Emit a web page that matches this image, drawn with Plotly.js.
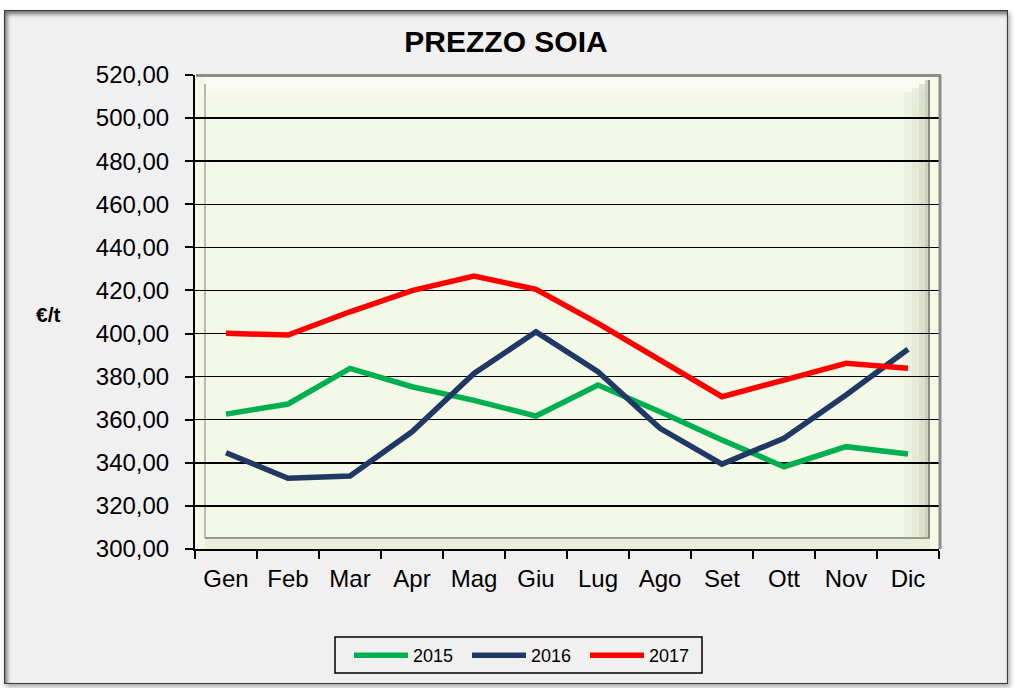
<!DOCTYPE html>
<html>
<head>
<meta charset="utf-8">
<script src="https://cdn.plot.ly/plotly-3.0.1.min.js"></script>
<style>
  html, body { margin: 0; padding: 0; background: #ffffff; width: 1019px; height: 688px; overflow: hidden; }
  #frame {
    position: absolute; left: 4px; top: 10px; width: 1002px; height: 672px;
    background: #f0f0f0; border: 1px solid #3a3a3a;
    box-shadow: inset 2px 3px 4px rgba(0,0,0,0.55), 2px 3px 5px rgba(0,0,0,0.35);
  }
  #chart { position: absolute; left: 0; top: 0; width: 1019px; height: 688px; }
</style>
</head>
<body>
<div id="frame"></div>
<div id="chart"></div>
<script>
// ---- data ----
const months = ['Gen','Feb','Mar','Apr','Mag','Giu','Lug','Ago','Set','Ott','Nov','Dic'];
const p2015 = [362.6, 367.3, 383.8, 375.3, 369.0, 361.7, 376.1, 363.7, 350.6, 338.2, 347.5, 344.1];
const p2016 = [344.7, 332.8, 333.9, 354.4, 381.5, 400.8, 382.3, 356.0, 339.4, 351.4, 371.5, 392.7];
const p2017 = [400.1, 399.3, 410.1, 419.9, 426.7, 420.5, 404.7, 387.7, 370.7, 378.4, 386.2, 383.9];
const seriesNames = ['2015', '2016', '2017'];
const yTitle = '€/t';
const chartTitle = 'PREZZO SOIA';

// ---- layout helpers (pixel -> paper) ----
const L = 195, R = 939, T = 75, B = 549;
const fx = px => (px - L) / (R - L);
const fy = py => (B - py) / (B - T);
const FONT = 'Arial, "Liberation Sans", sans-serif';

const traces = [
  {x: months, y: p2015, name: seriesNames[0], type: 'scatter', mode: 'lines', line: {color: '#00b050', width: 5.5}},
  {x: months, y: p2016, name: seriesNames[1], type: 'scatter', mode: 'lines', line: {color: '#1f3864', width: 5.5}},
  {x: months, y: p2017, name: seriesNames[2], type: 'scatter', mode: 'lines', line: {color: '#ff0000', width: 5.5}}
];

const shapes = [];
function rect(x0, x1, y0, y1, fill, layer) {
  shapes.push({type: 'rect', xref: 'paper', yref: 'paper', layer: layer || 'below',
    x0: fx(x0), x1: fx(x1), y0: fy(y1), y1: fy(y0), fillcolor: fill, line: {width: 0}});
}
function line(x0, x1, y0, y1, color, w, layer) {
  shapes.push({type: 'line', xref: 'paper', yref: 'paper', layer: layer || 'below',
    x0: fx(x0), x1: fx(x1), y0: fy(y0), y1: fy(y1), line: {color: color, width: w}});
}
// top highlight gradient of the wall
rect(205, 928, 77, 84, 'rgba(255,255,255,0.55)');
rect(205, 928, 84, 91, 'rgba(255,255,255,0.40)');
rect(205, 928, 91, 97, 'rgba(255,255,255,0.22)');
rect(205, 928, 97, 102, 'rgba(255,255,255,0.10)');
// right shading gradient
rect(904, 912, 92, 538, 'rgba(160,165,140,0.08)');
rect(912, 919, 88, 538, 'rgba(160,165,140,0.16)');
rect(919, 925, 84, 538, 'rgba(150,155,130,0.26)');
rect(925, 929, 80, 538, 'rgba(140,145,120,0.38)');
// bottom band
rect(205, 930, 538, 549, 'rgba(225,230,205,0.55)');
// inner bevel lines
line(205, 205, 538, 84, 'rgba(160,160,150,0.7)', 2);
line(205, 930, 538, 538, '#9a9a90', 2);
line(929, 929, 538, 80, '#8a8a80', 2);
// outer gray border top and right
line(196, 941, 75.5, 75.5, '#8c8c8c', 3, 'above');
line(940, 940, 549, 75, '#8c8c8c', 3, 'above');
// legend frame
shapes.push({type: 'rect', xref: 'paper', yref: 'paper', layer: 'above',
  x0: fx(335), x1: fx(702), y0: fy(673), y1: fy(637), line: {color: '#000', width: 1.5}, fillcolor: 'rgba(0,0,0,0)'});

const layout = {
  width: 1019, height: 688,
  margin: {l: L, r: 1019 - R, t: T, b: 688 - B, pad: 0},
  paper_bgcolor: 'rgba(0,0,0,0)',
  plot_bgcolor: '#f4f8e6',
  separators: ',.',
  font: {family: FONT, color: '#000'},
  title: {text: '<b>' + chartTitle + '</b>', font: {size: 30, family: FONT, color: '#000'},
          xref: 'container', yref: 'container', x: 506 / 1019, y: 1 - 41 / 688, xanchor: 'center', yanchor: 'middle'},
  xaxis: {
    type: 'category', range: [-0.5, 11.5], tickson: 'boundaries',
    ticks: 'outside', ticklen: 8, tickwidth: 2, tickcolor: '#000',
    showline: true, linecolor: '#000', linewidth: 2, showgrid: false, zeroline: false,
    tickfont: {size: 24, family: FONT, color: '#000'}, ticklabelstandoff: 7, fixedrange: true
  },
  yaxis: {
    range: [300, 520], dtick: 20, tick0: 300, tickformat: '.2f',
    ticks: 'outside', ticklen: 8, tickwidth: 2, tickcolor: '#000',
    showline: true, linecolor: '#000', linewidth: 2,
    showgrid: true, gridcolor: '#000', gridwidth: 1.5, zeroline: false,
    tickfont: {size: 24, family: FONT, color: '#000'}, ticklabelstandoff: 11, fixedrange: true
  },
  annotations: [
    {text: '<b>' + yTitle + '</b>', xref: 'paper', yref: 'paper', x: fx(48), y: fy(314),
     xanchor: 'center', yanchor: 'middle', showarrow: false, font: {size: 21, family: FONT, color: '#000'}}
  ],
  shapes: shapes,
  showlegend: true,
  legend: {
    orientation: 'h', x: fx(349), y: fy(637), xanchor: 'left', yanchor: 'top',
    xref: 'paper', yref: 'paper',
    bgcolor: 'rgba(0,0,0,0)', borderwidth: 0,
    font: {size: 18, family: FONT, color: '#000'},
    itemwidth: 54, entrywidth: 49, entrywidthmode: 'pixels',
    traceorder: 'normal'
  }
};

Plotly.newPlot('chart', traces, layout, {displayModeBar: false, staticPlot: true});
</script>
</body>
</html>
